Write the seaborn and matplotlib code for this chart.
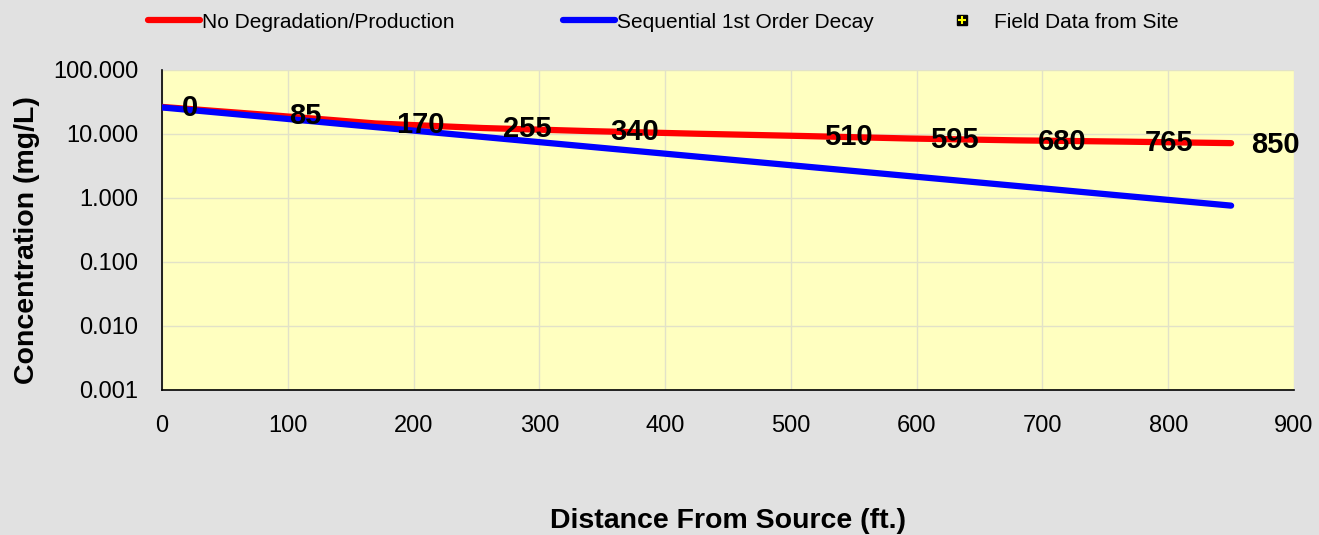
import matplotlib
matplotlib.use("Agg")
import matplotlib.pyplot as plt
import seaborn as sns
import numpy as np
import pandas as pd
from matplotlib.lines import Line2D
from matplotlib.legend_handler import HandlerTuple

# ---- data ----
distance = [0, 85, 170, 255, 340, 425, 510, 595, 680, 765, 850]
no_degradation = [26.5, 19.8, 14.6, 12.4, 11.1, 10.1, 9.3, 8.5, 7.95, 7.6, 7.2]
first_order = [26.0, 18.3, 12.8, 9.0, 6.32, 4.44, 3.12, 2.19, 1.54, 1.08, 0.76]
station_labels = [0, 85, 170, 255, 340, 510, 595, 680, 765, 850]
field_x = []
field_y = []
y_ticks = [0.001, 0.01, 0.1, 1, 10, 100]
x_ticks = [0, 100, 200, 300, 400, 500, 600, 700, 800, 900]

sns.set_style("white")
plt.rcParams["font.family"] = ["Liberation Sans", "DejaVu Sans"]
plt.rcParams["text.color"] = "black"
plt.rcParams["axes.labelcolor"] = "black"

fig = plt.figure(figsize=(13.19, 5.35), dpi=100, facecolor="#E1E1E1")
ax = fig.add_axes([162/1319, 1-390/535, (1294-162)/1319, 320/535])
ax.set_facecolor("#FFFFC0")

df = pd.DataFrame({"Distance": distance, "NoDeg": no_degradation, "Decay": first_order})
sns.lineplot(data=df, x="Distance", y="NoDeg", ax=ax, color="#FF0000", lw=4.5,
             solid_capstyle="round", zorder=3)
sns.lineplot(data=df, x="Distance", y="Decay", ax=ax, color="#0000FF", lw=4.5,
             solid_capstyle="round", zorder=4)

ax.set_yscale("log")
ax.set_ylim(0.001, 100)
ax.set_xlim(0, 900)
ax.set_yticks(y_ticks)
ax.set_yticklabels([f"{v:.3f}" for v in y_ticks])
ax.set_xticks(x_ticks)
ax.set_xticklabels([str(v) for v in x_ticks])
ax.yaxis.set_minor_locator(matplotlib.ticker.NullLocator())
ax.grid(True, which="major", color="#E2E2C8", lw=1, zorder=0)
ax.set_axisbelow(True)

for s in ["top", "right"]:
    ax.spines[s].set_visible(False)
for s in ["left", "bottom"]:
    ax.spines[s].set_color("black")
    ax.spines[s].set_linewidth(1.2)
ax.tick_params(axis="both", direction="out", length=6, width=1, color="#888888",
               labelsize=17, labelcolor="black")
ax.tick_params(axis="y", pad=11)
ax.tick_params(axis="x", pad=12)

red_lookup = dict(zip(distance, no_degradation))
for d in station_labels:
    ax.annotate(str(d), xy=(d, red_lookup[d]), xytext=(14.5, -1), textcoords="offset points",
                ha="left", va="center", fontsize=21, fontweight="bold", color="black",
                zorder=6, annotation_clip=False)

ax.set_xlabel("Distance From Source (ft.)", fontsize=20.5, fontweight="bold", va="center",
              color="black")
ax.xaxis.set_label_coords(0.5, (390-521)/320)
ax.set_ylabel("Concentration (mg/L)", fontsize=20.5, fontweight="bold", va="center",
              color="black")
ax.yaxis.set_label_coords((27-162)/1132, (390-240)/320)

# legends
h1 = Line2D([], [], color="#FF0000", lw=4.5, solid_capstyle="round")
h2 = Line2D([], [], color="#0000FF", lw=4.5, solid_capstyle="round")
m1 = Line2D([], [], color="none", marker="s", markersize=7, markerfacecolor="black",
            markeredgecolor="black")
m2 = Line2D([], [], color="none", marker="+", markersize=6, markeredgecolor="#FFFF00",
            markeredgewidth=1.5)
ax.scatter(field_x, field_y, marker="s", color="black")

common = dict(frameon=False, fontsize=15, handlelength=2.5, handletextpad=0.1,
              borderpad=0, borderaxespad=0, loc="center left", labelcolor="black")
fig.legend([h1], ["No Degradation/Production"], bbox_to_anchor=(148/1319, 1-22/535), **common)
fig.legend([h2], ["Sequential 1st Order Decay"], bbox_to_anchor=(563/1319, 1-22/535), **common)
c3 = dict(common)
c3["handletextpad"] = 1.0
c3["handlelength"] = 1.0
fig.legend([(m1, m2)], ["Field Data from Site"], bbox_to_anchor=(952/1319, 1-22/535),
           handler_map={tuple: HandlerTuple(ndivide=1, pad=0)}, **c3)

fig.savefig("out.png", dpi=100, facecolor=fig.get_facecolor())
